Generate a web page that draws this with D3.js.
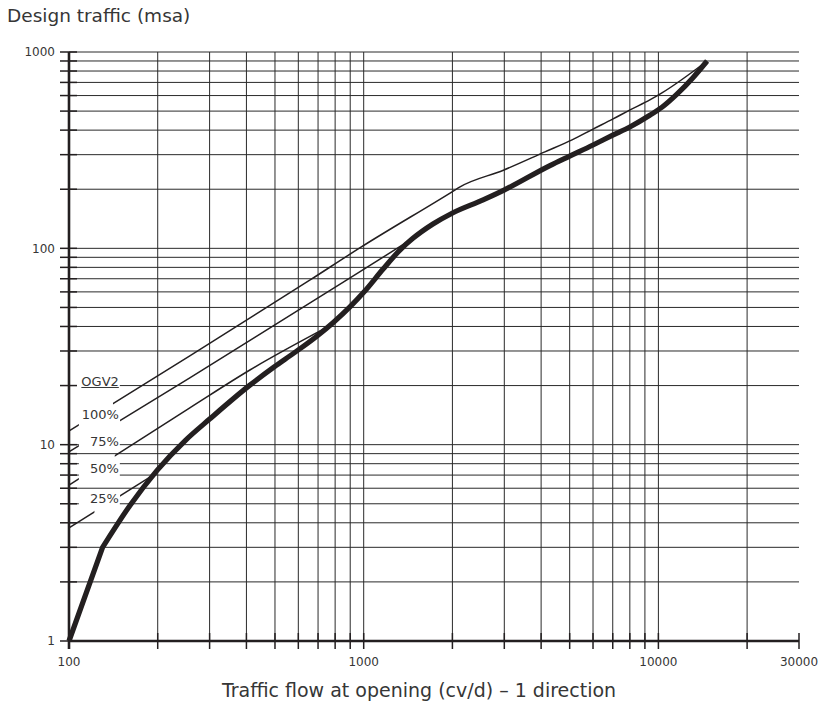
<!DOCTYPE html>
<html><head><meta charset="utf-8">
<script src="https://cdn.jsdelivr.net/npm/d3@7"></script>
<style>
body{margin:0;background:#fff}
svg{display:block}
text{font-family:"DejaVu Sans",sans-serif;fill:#363636}
</style>
</head><body>
<svg id="chart" width="826" height="702"></svg>
<script>
// ---------- data ----------
const gridX = [200,300,400,500,600,700,800,900,1000,2000,3000,4000,5000,6000,7000,8000,9000,10000,20000];
const tickX = [100,200,300,400,500,600,700,800,900,1000,2000,3000,4000,5000,6000,7000,8000,9000,10000,20000,30000];
const labelX = [100,1000,10000,30000];
const gridY = [2,3,4,5,6,7,8,9,10,20,30,40,50,60,70,80,90,100,200,300,400,500,600,700,800,900,1000];
const tickY = [1,2,3,4,5,6,7,8,9,10,20,30,40,50,60,70,80,90,100,200,300,400,500,600,700,800,900,1000];
const labelY = [1,10,100,1000];

// design curve (thick)
const designX = [100,130,161,199,248,300,411,497,580,695,787,898,1002,1162,1327,1469,1718,1995,2542,2993,4285,5000,6000,7000,8000,9350,10280,11560,13100,14630];
const designY = [1,3,4.9,7.4,10.5,13.5,20.1,24.9,29.3,35.8,41.8,50.3,59.9,78.2,98,112.4,133,151,176.5,198,264,295,336,377,415,476,523,610,740,900];

// OGV2 percentage lines (thin)
const ogvNames = ["100%","75%","50%","25%"];
const ogv100X = [100,257,658,970,1995,2123,2979,4120,5094,6000,7015,8011,9354,10280,14630];
const ogv100Y = [11.75,28.3,69,100.5,194,205.6,250,310,357,405,456,507,570,619,900];
const ogv75X = [100,257,877,1469];
const ogv75Y = [9.2,21.9,69,112.4];
const ogv50X = [100,257,411,760];
const ogv50Y = [6.23,15.4,24,40];
const ogv25X = [100,190];
const ogv25Y = [3.77,6.9];
// label gaps along each thin line (x values)
const gapStart = [108,108,108,122];
const gapEnd   = [141,149,143,149];

// annotation labels
const annNames = ["OGV2","100%","75%","50%","25%"];
const annY = [21.1,14.2,10.4,7.6,5.35];
const annX = 147.6;

const yTitle = "Design traffic (msa)";
const xTitle = "Traffic flow at opening (cv/d) \u2013 1 direction";

// ---------- drawing ----------
const svg = d3.select("#chart");
const x = d3.scaleLog().domain([100,30000]).range([69,799]);
const y = d3.scaleLog().domain([1,1000]).range([641,52]);
const X0 = x(100), X1 = x(30000), Y0 = y(1), Y1 = y(1000);
const ink = "#231f20";

// grid
svg.append("g").selectAll("line").data(gridY).join("line")
  .attr("x1", X0).attr("x2", X1).attr("y1", d=>y(d)).attr("y2", d=>y(d))
  .attr("stroke", "#2a2a2a").attr("stroke-width", 1);
svg.append("g").selectAll("line").data(gridX).join("line")
  .attr("y1", Y0).attr("y2", Y1).attr("x1", d=>x(d)).attr("x2", d=>x(d))
  .attr("stroke", "#2a2a2a").attr("stroke-width", 1);

// label boxes (white, hide grid behind labels)
const boxes = svg.append("g");
annNames.forEach((n,i)=>{
  const cy = y(annY[i]);
  const left = i===0 ? X0+1.5 : x(108);
  boxes.append("rect").attr("x", left).attr("y", cy-9).attr("width", x(annX)+1-left).attr("height", 18).attr("fill","#fff");
});

// axes ticks
svg.append("g").selectAll("line").data(tickY).join("line")
  .attr("x1", X0-9).attr("x2", X0+8).attr("y1", d=>y(d)).attr("y2", d=>y(d))
  .attr("stroke", ink).attr("stroke-width", 1.5);
svg.append("g").selectAll("line").data(tickX).join("line")
  .attr("y1", Y0-8).attr("y2", Y0+8).attr("x1", d=>x(d)).attr("x2", d=>x(d))
  .attr("stroke", ink).attr("stroke-width", 1.5);
// axis lines
svg.append("line").attr("x1",X0).attr("x2",X0).attr("y1",Y1).attr("y2",Y0+8).attr("stroke",ink).attr("stroke-width",2.6);
svg.append("line").attr("x1",X0).attr("x2",X1).attr("y1",Y0).attr("y2",Y0).attr("stroke",ink).attr("stroke-width",2.6);

// tick labels
svg.append("g").selectAll("text").data(labelY).join("text")
  .attr("x", 55).attr("y", d=>y(d)).attr("dy","0.36em").attr("text-anchor","end")
  .style("font-size","12px").text(d=>d);
svg.append("g").selectAll("text").data(labelX).join("text")
  .attr("x", d=>x(d)).attr("y", 666).attr("text-anchor","middle")
  .style("font-size","12px").text(d=>d);

// thin lines with gaps via masks
const line = d3.line().x(d=>x(d[0])).y(d=>y(d[1])).curve(d3.curveMonotoneX);
const defs = svg.append("defs");
const thinSets = [[ogv100X,ogv100Y],[ogv75X,ogv75Y],[ogv50X,ogv50Y],[ogv25X,ogv25Y]];
thinSets.forEach((s,i)=>{
  const id = "gap"+i;
  const m = defs.append("mask").attr("id", id).attr("maskUnits","userSpaceOnUse")
    .attr("x",0).attr("y",0).attr("width",826).attr("height",702);
  m.append("rect").attr("x",0).attr("y",0).attr("width",826).attr("height",702).attr("fill","#fff");
  m.append("rect").attr("x", x(gapStart[i])).attr("y", 0).attr("width", x(gapEnd[i])-x(gapStart[i])).attr("height", 702).attr("fill","#000");
  const pts = s[0].map((v,k)=>[v, s[1][k]]);
  svg.append("path").attr("d", line(pts)).attr("fill","none").attr("stroke",ink)
    .attr("stroke-width",1.5).attr("mask",`url(#${id})`);
});

// thick design curve: straight first segment, then smooth
const dpts = designX.map((v,k)=>[v, designY[k]]);
const seg1 = d3.line().x(d=>x(d[0])).y(d=>y(d[1]));
svg.append("path").attr("d", seg1(dpts.slice(0,2)) + line(dpts.slice(1)).replace(/^M/,"L"))
  .attr("fill","none").attr("stroke",ink).attr("stroke-width",5.2).attr("stroke-linejoin","round");

// annotation labels
annNames.forEach((n,i)=>{
  const t = svg.append("text").attr("x", x(annX)).attr("y", y(annY[i])).attr("dy","0.36em")
    .attr("text-anchor","end").style("font-size","13px").text(n);
  if (i===0) {
    const bb = t.node().getBBox();
    svg.append("line").attr("x1", bb.x).attr("x2", x(annX)).attr("y1", y(annY[i])+6.5).attr("y2", y(annY[i])+6.5)
      .attr("stroke","#363636").attr("stroke-width",1);
  }
});

// titles
svg.append("text").attr("x", 7).attr("y", 22).style("font-size","18.5px").text(yTitle);
svg.append("text").attr("x", 419).attr("y", 697).attr("text-anchor","middle").style("font-size","19px").text(xTitle);
</script>
</body></html>
